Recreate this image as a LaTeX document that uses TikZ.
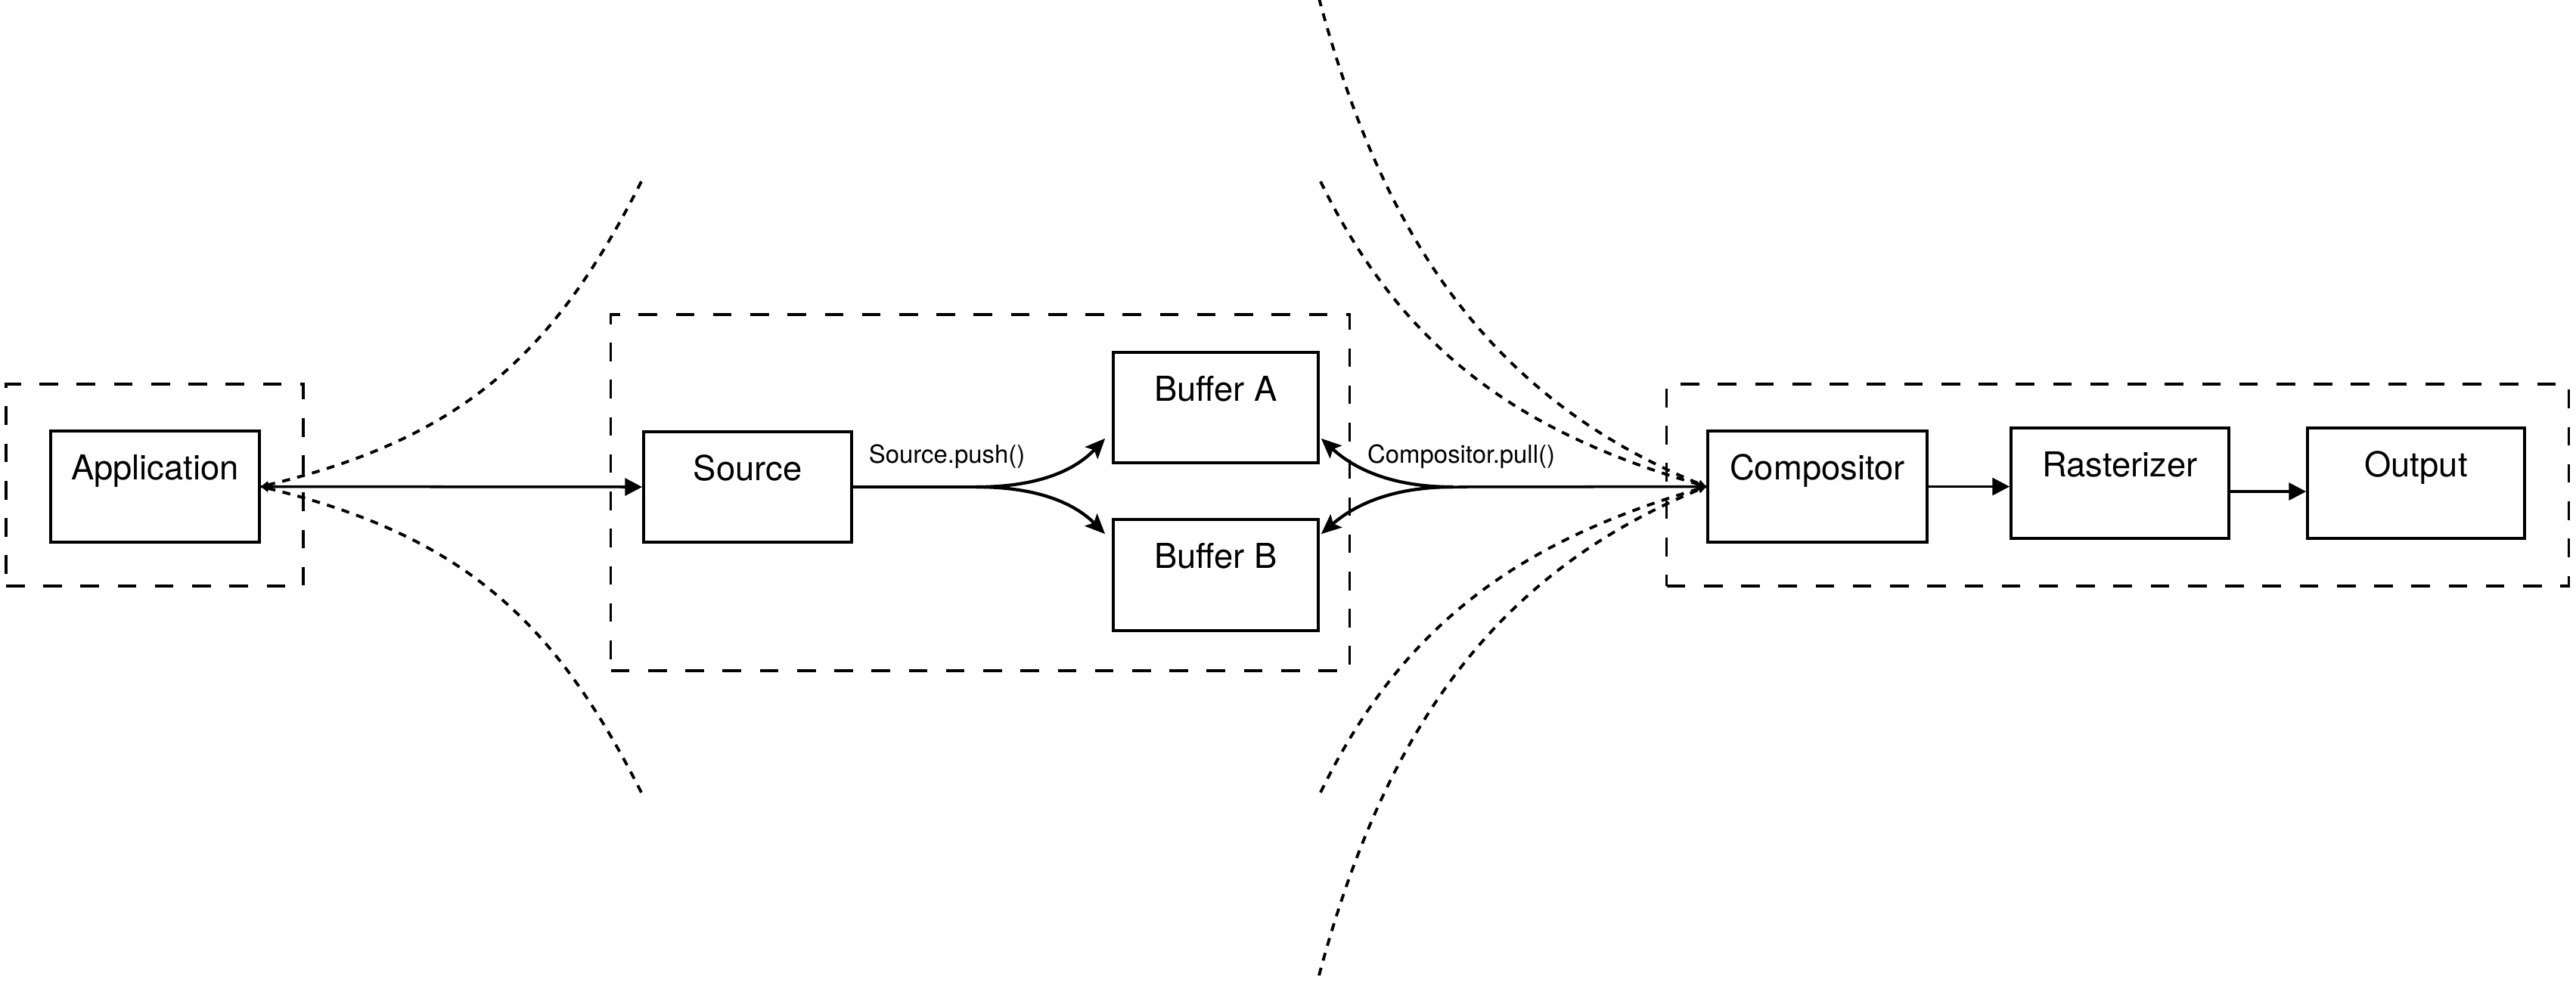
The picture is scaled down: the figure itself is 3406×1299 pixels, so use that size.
\documentclass[tikz,border=0pt]{standalone}
\usepackage{fontspec}
\setmainfont{TeX Gyre Heros}
\usetikzlibrary{arrows.meta,calc}
\begin{document}
\begin{tikzpicture}[x=0.01cm,y=-0.01cm,
  box/.style={draw, line width=1pt, inner sep=0pt, font=\fontsize{12.9}{15}\selectfont, text height=9.5pt, text depth=14.6pt},
  group/.style={draw, line width=1pt, dash pattern=on 7pt off 7pt, inner sep=0pt},
  lbl/.style={font=\fontsize{9.35}{11}\selectfont, anchor=base, inner sep=0pt},
  conn/.style={line width=1pt},
  arr/.style={conn, -{Triangle[length=6.5pt,width=6.5pt]}},
  carr/.style={line width=1.2pt, -{Stealth[length=7.5pt,width=6.5pt,inset=1.5pt]}},
  dotline/.style={line width=1.1pt, dash pattern=on 3pt off 2.8pt, -{Triangle[length=3pt,width=2.6pt]}}
]
\useasboundingbox (0,0) rectangle (3406,1299);

% groups
\node[group, minimum width=3.93cm, minimum height=2.67cm] (g1) at (204.5,641.5) {};
\node[group, minimum width=9.76cm, minimum height=4.71cm] (g2) at (1296,651.5) {};
\node[group, minimum width=11.92cm, minimum height=2.67cm] (g3) at (2800,641.5) {};

% boxes
\node[box, minimum width=2.76cm, minimum height=1.47cm] (app) at (205,643.5) {Application};
\node[box, minimum width=2.75cm, minimum height=1.46cm] (src) at (988.5,644) {Source};
\node[box, minimum width=2.71cm, minimum height=1.46cm] (bufA) at (1607.5,539) {Buffer A};
\node[box, minimum width=2.71cm, minimum height=1.47cm] (bufB) at (1607.5,760.5) {Buffer B};
\node[box, minimum width=2.90cm, minimum height=1.47cm] (comp) at (2403,643.5) {Compositor};
\node[box, minimum width=2.88cm, minimum height=1.46cm] (rast) at (2803,639) {Rasterizer};
\node[box, minimum width=2.87cm, minimum height=1.46cm] (outp) at (3194.5,639) {Output};

% labels
\node[lbl] (pushlbl) at (1252,612) {Source.push()};
\node[lbl] (pulllbl) at (1932,612) {Compositor.pull()};

% junctions and free ends
\coordinate (j1) at (1291,644);
\coordinate (j2) at (1921,644);
\coordinate (lu) at (848,240);
\coordinate (ld) at (848,1048);
\coordinate (ro1) at (1744,-2);
\coordinate (ri1) at (1746,240);
\coordinate (ri2) at (1746,1048);
\coordinate (ro2) at (1744,1290);

% solid connectors
\draw[arr] (app.east) -- (src.west);
\draw[conn] (src.east) -- (j1);
\draw[carr] (j1) .. controls (1380,644) and (1425,618) .. ($(bufA.south west)+(-9,-34)$);
\draw[carr] (j1) .. controls (1380,644) and (1425,670) .. ($(bufB.north west)+(-9,21)$);
\draw[conn] (comp.west) -- (j2);
\draw[carr] (j2) .. controls (1832,644) and (1785,615) .. ($(bufA.south east)+(2,-34)$);
\draw[carr] (j2) .. controls (1832,644) and (1785,673) .. ($(bufB.north east)+(2,21)$);
\draw[arr] (comp.east) -- (comp.east -| rast.west);
\draw[arr] ([yshift=-0.11cm]rast.east) -- ([yshift=-0.11cm]rast.east -| outp.west);

% dotted curves
\draw[dotline] (lu) .. controls (735,463) and (617,578) .. (app.east);
\draw[dotline] (ld) .. controls (735,825) and (617,710) .. (app.east);
\draw[dotline] (ro1) .. controls (1830,319) and (1974,528) .. (comp.west);
\draw[dotline] (ri1) .. controls (1856,465) and (2011,572) .. (comp.west);
\draw[dotline] (ri2) .. controls (1856,823) and (2011,716) .. (comp.west);
\draw[dotline] (ro2) .. controls (1830,969) and (1974,760) .. (comp.west);
\end{tikzpicture}
\end{document}
